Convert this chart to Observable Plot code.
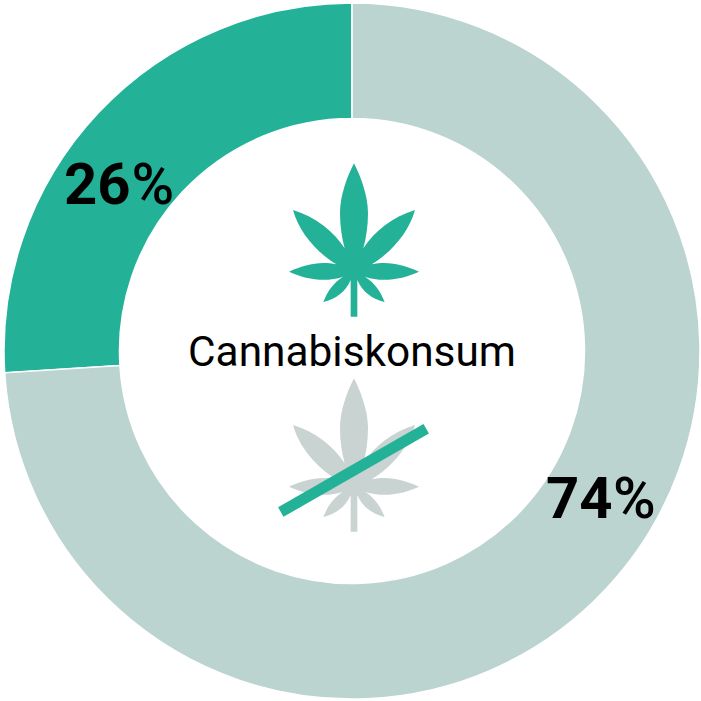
<!DOCTYPE html>
<html>
<head>
<meta charset="utf-8">
<script src="https://cdn.jsdelivr.net/npm/d3@7"></script>
<script src="https://cdn.jsdelivr.net/npm/@observablehq/plot@0.6"></script>
<style>html,body{margin:0;padding:0;background:#fff}svg{display:block}</style>
</head>
<body>
<div id="chart"></div>
<script>
const categories = ["Konsum", "Kein Konsum"];
const shares = [26, 74];
const sliceColors = ["#23B298", "#BBD4CF"];
const numberLabels = ["26", "74"];
const title = "Cannabiskonsum";

const TEAL = "#23B298", GREY = "#C9D3D1";
const cx = 352, cy = 351, outer = 348, inner = 232.5;

// half of the leaf outline (zoomed-icon units, mirrored below)
const leafSide = s => `
M0,-320
C${s*20},-280 ${s*42},-225 ${s*42},-170
C${s*42},-130 ${s*36},-95 ${s*28},-65
C${s*60},-115 ${s*115},-160 ${s*183},-180
C${s*165},-115 ${s*115},-55 ${s*53},-17
C${s*105},-28 ${s*150},-15 ${s*195},5
C${s*145},28 ${s*85},38 ${s*33},20
C${s*62},38 ${s*80},65 ${s*92},96
C${s*55},88 ${s*25},65 ${s*10},30
L${s*10},140 L0,140 L0,-50 Z`;
const leafPath = leafSide(1) + leafSide(-1);

// slices through d3.pie, sized by the plot's own scales
const pie = d3.pie().sort(null).startAngle(2 * Math.PI).endAngle(0).value(d => d.share);
const sliceData = pie(categories.map((c, i) => ({category: c, share: shares[i]})));

function arcs(index, scales, values, dims, context) {
  const k = scales.x(1) - scales.x(0);
  const arc = d3.arc().innerRadius(inner * k).outerRadius(outer * k);
  const g = d3.select(context.document.createElementNS("http://www.w3.org/2000/svg", "g"));
  g.selectAll("path").data(sliceData).join("path")
    .attr("transform", `translate(${scales.x(cx)},${scales.y(cy)})`)
    .attr("d", arc)
    .attr("fill", d => scales.color(d.data.category))
    .attr("stroke", "#fff").attr("stroke-width", 1.5);
  return g.node();
}

function leaf(px, py, fill) {
  return (index, scales, values, dims, context) => {
    const p = context.document.createElementNS("http://www.w3.org/2000/svg", "path");
    p.setAttribute("d", leafPath);
    p.setAttribute("fill", fill);
    p.setAttribute("transform", `translate(${scales.x(px)},${scales.y(py)}) scale(${1/3})`);
    return p;
  };
}

const slash = [{x: 280.3, y: 511.5}, {x: 425.7, y: 428.3}];

const plot = Plot.plot({
  width: 701, height: 701,
  margin: 0,
  style: {background: "#fff", fontFamily: "Roboto"},
  x: {domain: [0, 701], range: [0, 701], axis: null},
  y: {domain: [0, 701], range: [0, 701], axis: null},
  color: {domain: categories, range: sliceColors},
  marks: [
    arcs,
    leaf(354, 270, TEAL),
    leaf(354, 485, GREY),
    Plot.line(slash, {x: "x", y: "y", stroke: TEAL, strokeWidth: 11, strokeLinecap: "butt"}),
    Plot.text([title], {x: 351.5, y: 352, text: d => d, fontSize: 42.4, fill: "#000", lineAnchor: "middle", fontFamily: "Roboto"}),
    Plot.text([numberLabels[0]], {x: 130, y: 203, text: d => d, fontSize: 58, fontWeight: 700, textAnchor: "end", lineAnchor: "bottom", fill: "#000", fontFamily: "Roboto"}),
    Plot.text(["%"], {x: 131, y: 203, text: d => d, fontSize: 58, fontWeight: 500, textAnchor: "start", lineAnchor: "bottom", fill: "#000", fontFamily: "Roboto"}),
    Plot.text([numberLabels[1]], {x: 612, y: 517, text: d => d, fontSize: 58, fontWeight: 700, textAnchor: "end", lineAnchor: "bottom", fill: "#000", fontFamily: "Roboto"}),
    Plot.text(["%"], {x: 612.5, y: 517, text: d => d, fontSize: 58, fontWeight: 500, textAnchor: "start", lineAnchor: "bottom", fill: "#000", fontFamily: "Roboto"})
  ]
});
document.getElementById("chart").append(plot);
</script>
</body>
</html>
